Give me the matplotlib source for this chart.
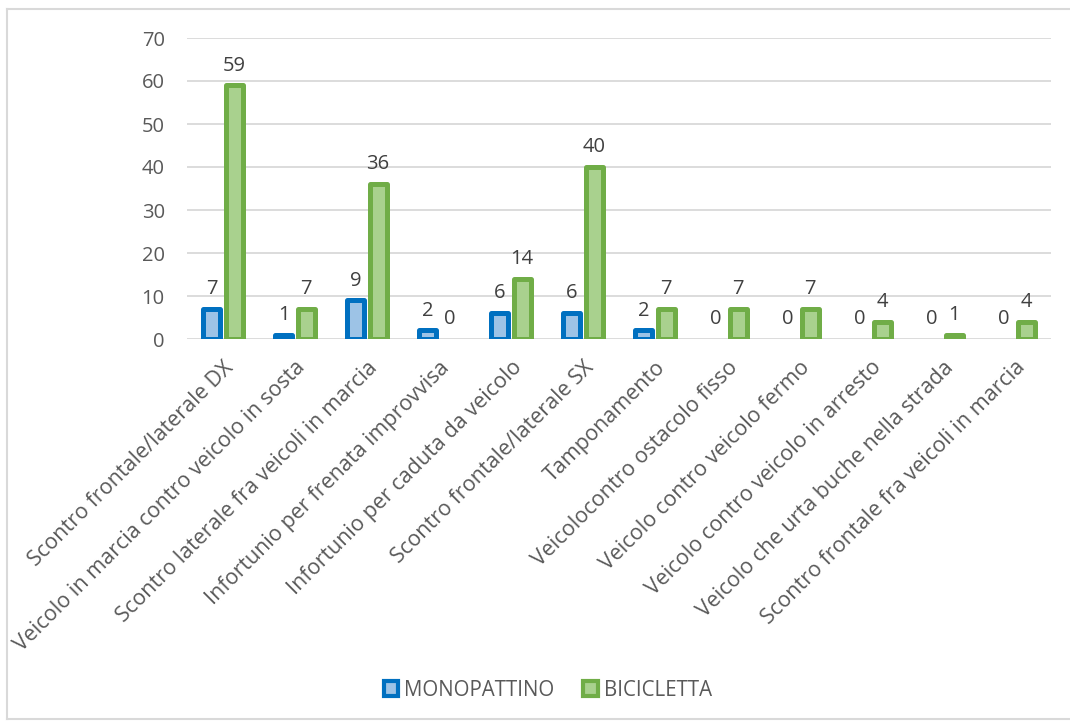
import matplotlib
matplotlib.use("Agg")
from matplotlib import pyplot as plt
from matplotlib.patches import Patch
from matplotlib.lines import Line2D
import numpy as np

plt.rcParams["font.family"] = ["Open Sans", "DejaVu Sans"]

categories = [
    "Scontro frontale/laterale DX",
    "Veicolo in marcia contro veicolo in sosta",
    "Scontro laterale fra veicoli in marcia",
    "Infortunio per frenata improvvisa",
    "Infortunio per caduta da veicolo",
    "Scontro frontale/laterale SX",
    "Tamponamento",
    "Veicolocontro ostacolo fisso",
    "Veicolo contro veicolo fermo",
    "Veicolo contro veicolo in arresto",
    "Veicolo che urta buche nella strada",
    "Scontro frontale fra veicoli in marcia",
]
monopattino = [7, 1, 9, 2, 6, 6, 2, 0, 0, 0, 0, 0]
bicicletta = [59, 7, 36, 0, 14, 40, 7, 7, 7, 4, 1, 4]

TEXT = "#595959"
GRID = "#D9D9D9"
SERIES = [
    ("MONOPATTINO", monopattino, "#0070C0", "#9DC3E6"),
    ("BICICLETTA", bicicletta, "#70AD47", "#A9D18E"),
]

fig = plt.figure(figsize=(10.7, 7.22), dpi=100)
ax = fig.add_axes([187 / 1070, 1 - 339 / 722, (1051 - 187) / 1070, (339 - 38) / 722])

x = np.arange(len(categories))
offset = 0.153
width = 0.236
for i, (name, vals, edge, face) in enumerate(SERIES):
    vals = np.array(vals)
    pos = x + (i * 2 - 1) * offset
    lws = [3.6 if v > 0 else 0 for v in vals]
    ax.bar(pos, vals, width, color=face, edgecolor=edge, linewidth=lws,
           joinstyle="round", zorder=3)
    for px, v in zip(pos, vals):
        ax.annotate(str(v), (px, v), xytext=(0, 7), textcoords="offset points",
                    ha="center", va="bottom", fontsize=14.5, color="#404040")

ax.set_ylim(0, 70)
ax.set_xlim(-0.5, len(categories) - 0.5)
ax.set_yticks(range(0, 71, 10))
ax.yaxis.grid(True, color=GRID, linewidth=1.3, zorder=0)
ax.set_axisbelow(True)
for s in ax.spines.values():
    s.set_visible(False)
ax.tick_params(axis="y", length=0, pad=16, labelsize=14.5, labelcolor=TEXT)
ax.tick_params(axis="x", length=0, pad=13, labelsize=15.5, labelcolor=TEXT)
ax.set_xticks(x)
ax.set_xticklabels(categories, rotation=45, ha="right", va="top",
                   rotation_mode="anchor")

handles = [Patch(facecolor=face, edgecolor=edge, linewidth=3, label=name)
           for name, _, edge, face in SERIES]
fig.legend(handles=handles, loc="center", bbox_to_anchor=(0.512, 1 - 690 / 722),
           ncol=2, frameon=False, fontsize=14.8, labelcolor=TEXT,
           handlelength=0.7, handleheight=0.7, handletextpad=0.3,
           columnspacing=1.4)

# chart border
fig.add_artist(Line2D([7 / 1070, 7 / 1070], [1 - 719 / 722, 1 - 9 / 722],
                      color=GRID, linewidth=1.5))
fig.add_artist(Line2D([7 / 1070, 1.0], [1 - 9 / 722, 1 - 9 / 722],
                      color=GRID, linewidth=1.5))
fig.add_artist(Line2D([7 / 1070, 1.0], [1 - 719 / 722, 1 - 719 / 722],
                      color=GRID, linewidth=1.5))

fig.savefig("out.png", dpi=100, facecolor="white")
